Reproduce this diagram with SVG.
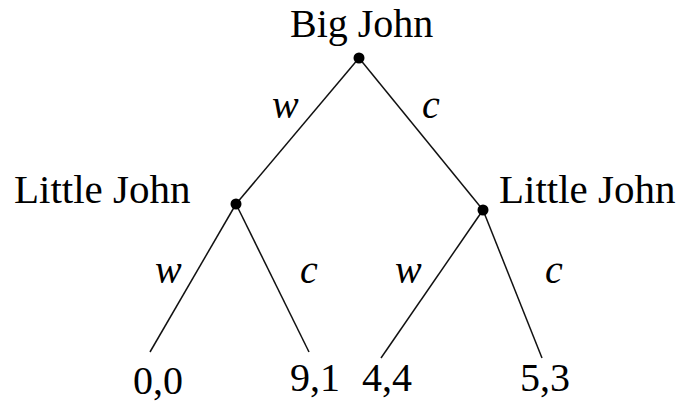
<svg xmlns="http://www.w3.org/2000/svg" width="678" height="403" viewBox="0 0 678 403">
<style>
.t{font-family:"Liberation Serif","Times New Roman",serif;font-size:40px;fill:#000}
.l{font-size:41px}
.i{font-style:italic}
.e{stroke:#111;stroke-width:1.5;fill:none}
.d{fill:#000}
</style>
<rect width="678" height="403" fill="#fff"/>
<g id="connectors">
<line class="e" x1="359" y1="58" x2="236" y2="204"/>
<line class="e" x1="359" y1="58" x2="483" y2="210"/>
<line class="e" x1="236" y1="204" x2="150" y2="352"/>
<line class="e" x1="236" y1="204" x2="309" y2="352"/>
<line class="e" x1="483" y1="210" x2="381" y2="358"/>
<line class="e" x1="483" y1="210" x2="542" y2="358"/>
<text class="t i" x="272" y="118">w</text>
<text class="t i" x="422" y="118">c</text>
<text class="t i" x="155" y="283">w</text>
<text class="t i" x="300" y="283">c</text>
<text class="t i" x="395" y="283">w</text>
<text class="t i" x="545" y="283">c</text>
</g>
<g id="root"><circle class="d" cx="359" cy="58" r="5.5"/><text class="t" x="290" y="37">Big John</text></g>
<g id="left"><circle class="d" cx="236" cy="204" r="5.5"/><text class="t l" x="14" y="203">Little John</text></g>
<g id="right"><circle class="d" cx="483" cy="210" r="5.5"/><text class="t l" x="499" y="203">Little John</text></g>
<g id="leaf1"><text class="t" x="133" y="394">0,0</text></g>
<g id="leaf2"><text class="t" x="290" y="391">9,1</text></g>
<g id="leaf3"><text class="t" x="362" y="391">4,4</text></g>
<g id="leaf4"><text class="t" x="520" y="391">5,3</text></g>
</svg>
